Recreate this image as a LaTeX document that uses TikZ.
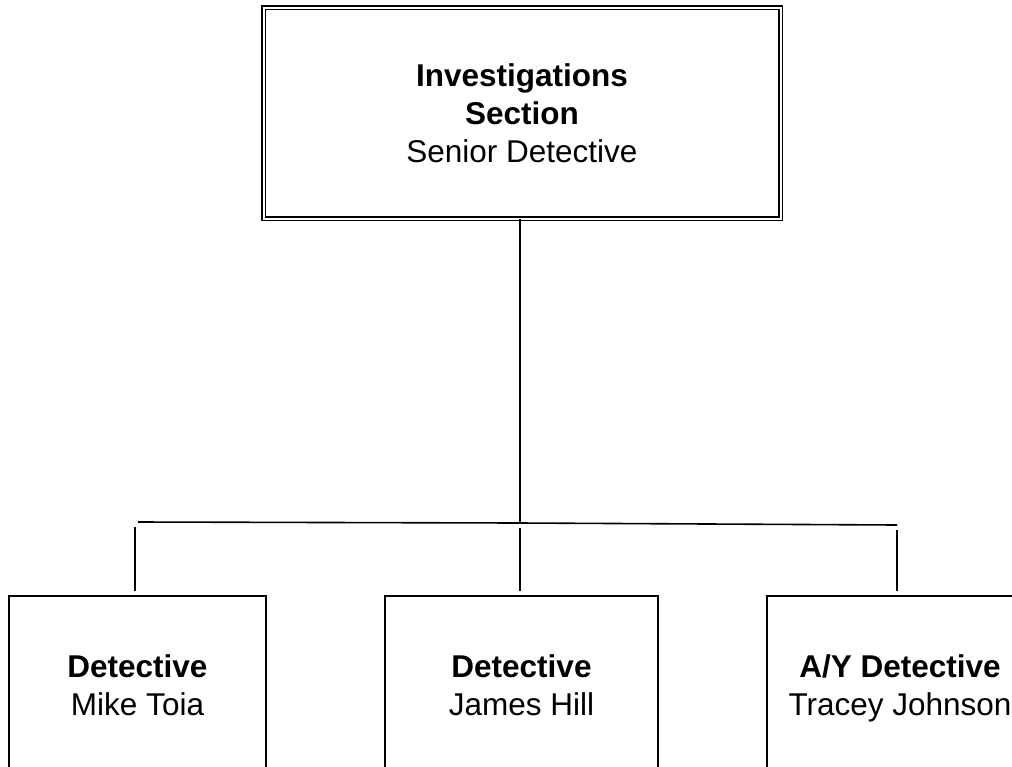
\documentclass[tikz,border=0pt]{standalone}
\usepackage{fontspec}
\setmainfont{Liberation Sans}

\tikzset{
    headbox/.style={draw, double, line width=1.6pt, double distance=2pt,
        minimum width=517pt, minimum height=211pt, inner sep=0pt,
        align=center, font=\fontsize{31.5}{38}\selectfont},
    staffbox/.style={draw, line width=1.6pt, minimum height=178pt,
        inner sep=0pt, align=center, font=\fontsize{31.5}{38}\selectfont},
    link/.style={line width=1.6pt}
}

\begin{document}
\begin{tikzpicture}[x=1pt,y=-1pt]
        \useasboundingbox (0,0) rectangle (1012,766);
        \clip (0,0) rectangle (1012,766);
        \node[headbox] (section) at (522,113) {\textbf{Investigations}\\ \textbf{Section}\\ Senior Detective};
        \node[staffbox, minimum width=257pt] (mike) at (137.5,685) {\textbf{Detective}\\ Mike Toia};
        \node[staffbox, minimum width=273pt] (james) at (521.5,685) {\textbf{Detective}\\ James Hill};
        \node[staffbox, minimum width=266pt, minimum height=184pt] (tracey) at (900,688) {\textbf{A/Y Detective}\\ Tracey Johnson};
        \coordinate (busL) at (135,522);
        \coordinate (busM) at (520,523);
        \coordinate (busR) at (897,525);
        \draw[link] ([xshift=3pt]busL) -- (busM) -- (busR);
        \draw[link] (section.south -| busM) -- (busM);
        \foreach \n/\b in {mike/busL,james/busM,tracey/busR} {
            \draw[link, shorten <=5pt, shorten >=4pt] (\b) -- (\n.north -| \b);
        }
    \end{tikzpicture}
\end{document}
